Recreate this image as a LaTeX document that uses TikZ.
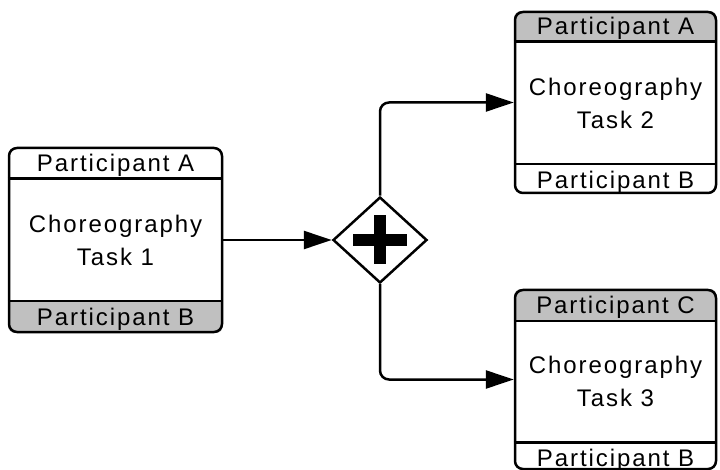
\documentclass[tikz,border=0pt]{standalone}
\usepackage{fontspec}
\setmainfont{Liberation Sans}[LetterSpace=8]
\usetikzlibrary{shapes.geometric,arrows.meta,backgrounds}
\definecolor{bandgray}{RGB}{192,192,192}
\begin{document}
\begin{tikzpicture}[x=1pt,y=-1pt,
  task/.style={draw, line width=2.5pt, rounded corners=8pt, inner sep=0pt},
  lbl/.style={font=\fontsize{24}{33}\selectfont, inner sep=0pt, align=center},
  conn/.style={line width=2.5pt, -{Triangle[length=28pt,width=18pt]}, rounded corners=9pt},
  gate/.style={draw, diamond, line width=2.5pt, minimum width=94pt, minimum height=86pt, inner sep=0pt},
  sep/.style={line width=2.5pt},
  plus/.style={line width=12pt}]
\useasboundingbox (0,0) rectangle (720,470);

% Task 1
\node[task, minimum width=213pt, minimum height=184pt] (t1) at (115.5,240) {};
% Task 2
\node[task, minimum width=201pt, minimum height=181pt] (t2) at (615.5,102.5) {};
% Task 3
\node[task, minimum width=201pt, minimum height=179pt] (t3) at (615.5,379.5) {};

% gray bands
\begin{scope}[on background layer]
  \begin{scope}
    \clip[rounded corners=8pt] (t1.north west) rectangle (t1.south east);
    \fill[bandgray] ([yshift=32pt]t1.south west) rectangle (t1.south east);
  \end{scope}
  \begin{scope}
    \clip[rounded corners=8pt] (t2.north west) rectangle (t2.south east);
    \fill[bandgray] (t2.north west) rectangle ([yshift=-31pt]t2.north east);
  \end{scope}
  \begin{scope}
    \clip[rounded corners=8pt] (t3.north west) rectangle (t3.south east);
    \fill[bandgray] (t3.north west) rectangle ([yshift=-32pt]t3.north east);
  \end{scope}
\end{scope}

% band separators
\draw[sep] ([yshift=-32pt]t1.north west) -- ([yshift=-32pt]t1.north east);
\draw[sep] ([yshift=32pt]t1.south west) -- ([yshift=32pt]t1.south east);
\draw[sep] ([yshift=-31pt]t2.north west) -- ([yshift=-31pt]t2.north east);
\draw[sep] ([yshift=30pt]t2.south west) -- ([yshift=30pt]t2.south east);
\draw[sep] ([yshift=-32pt]t3.north west) -- ([yshift=-32pt]t3.north east);
\draw[sep] ([yshift=28pt]t3.south west) -- ([yshift=28pt]t3.south east);

% texts
\node[lbl, anchor=base] (t1a) at ([yshift=-24.5pt]t1.north) {Participant A};
\node[lbl] (t1m) at (115.5,240) {Choreography\\Task 1};
\node[lbl, anchor=base] (t1b) at ([yshift=7.5pt]t1.south) {Participant B};

\node[lbl, anchor=base] (t2a) at ([yshift=-23.5pt]t2.north) {Participant A};
\node[lbl] (t2m) at (615.5,103) {Choreography\\Task 2};
\node[lbl, anchor=base] (t2b) at ([yshift=5.5pt]t2.south) {Participant B};

\node[lbl, anchor=base] (t3a) at ([yshift=-24.5pt]t3.north) {Participant C};
\node[lbl] (t3m) at (615.5,381.5) {Choreography\\Task 3};
\node[lbl, anchor=base] (t3b) at ([yshift=4pt]t3.south) {Participant B};

% gateway
\node[gate] (g) at (380,240) {};
\draw[plus] ([xshift=-27pt]g.center) -- ([xshift=27pt]g.center);
\draw[plus] ([yshift=24.5pt]g.center) -- ([yshift=-24.5pt]g.center);

% connectors
\draw[conn] (t1.east) -- (g.west);
\draw[conn] (g.north) |- (t2.west);
\draw[conn] (g.south) |- (t3.west);
\end{tikzpicture}
\end{document}
